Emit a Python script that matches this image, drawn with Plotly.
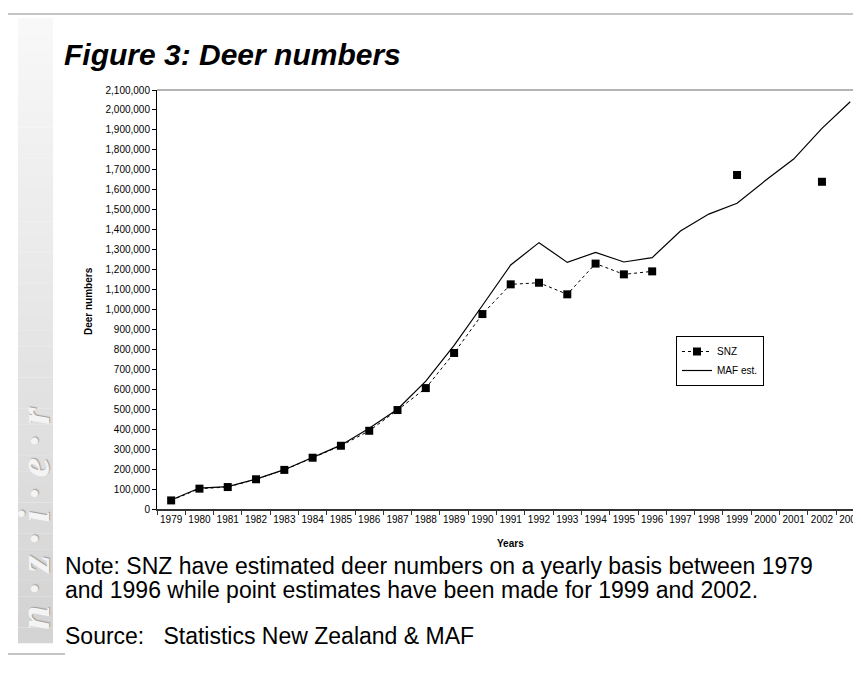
import plotly.graph_objects as go

years = [str(y) for y in range(1979, 2004)]
snz = [43000, 102000, 110000, 149000, 196000, 257000, 317000, 392000, 496000, 606000,
       782000, 977000, 1126000, 1134000, 1076000, 1230000, 1176000, 1191000,
       None, None, 1674000, None, None, 1640000, None]
maf = [45000, 105000, 112000, 150000, 197000, 258000, 320000, 405000, 500000, 641000,
       820000, 1020000, 1223000, 1335000, 1236000, 1286000, 1238000, 1260000,
       1393000, 1478000, 1532000, 1646000, 1754000, 1908000, 2041000]
y_ticks = list(range(0, 2100001, 100000))

FONT = "Liberation Sans, Arial, sans-serif"
OFF = 8  # page body margin
L, R, T, B = 157, 861, 90, 509   # plot area in screen pixels
W, H = R - L, B - T
FW, FH = 861 - OFF, 690 - OFF


def px(X):
    return (X - L) / W


def py(Y):
    return (B - Y) / H


fig = go.Figure()
fig.add_trace(go.Scatter(
    x=years, y=snz, name="SNZ", mode="lines+markers", connectgaps=False,
    line=dict(color="black", width=1, dash="3px,3px"),
    marker=dict(symbol="square", size=8, color="black"),
))
fig.add_trace(go.Scatter(
    x=years, y=maf, name="MAF est.", mode="lines",
    line=dict(color="black", width=1.2),
))

shapes = []
shapes.append(dict(type="line", xref="paper", yref="paper", x0=px(7), x1=px(861),
                   y0=py(14), y1=py(14), line=dict(color="#c4c4c4", width=2)))
n = 40
y_top, y_bot = 18, 643
for i in range(n):
    ya = y_top + (y_bot - y_top) * i / n
    yb = y_top + (y_bot - y_top) * (i + 1) / n
    t = i / (n - 1)
    c = int(248 - t * (248 - 212))
    shapes.append(dict(type="rect", xref="paper", yref="paper", x0=px(18), x1=px(53),
                       y0=py(yb) - 0.0005, y1=py(ya), line=dict(width=0),
                       fillcolor=f"rgb({c},{c},{c})", layer="below"))
shapes.append(dict(type="line", xref="paper", yref="paper", x0=px(0), x1=px(65),
                   y0=py(654), y1=py(654), line=dict(color="#c4c4c4", width=2)))
shapes.append(dict(type="line", xref="paper", yref="paper", x0=0, x1=1,
                   y0=1, y1=1, line=dict(color="#b4b4b4", width=2)))

annotations = [
    dict(text="<b><i>Figure 3: Deer numbers</i></b>", xref="paper", yref="paper",
         x=px(62), y=py(55), xanchor="left", yanchor="middle", showarrow=False,
         font=dict(family=FONT, size=30, color="black")),
    dict(text="<b>Deer numbers</b>", xref="paper", yref="paper", x=px(88), y=py(301),
         xanchor="center", yanchor="middle", textangle=-90, showarrow=False,
         font=dict(family=FONT, size=10, color="black")),
    dict(text="<b>Years</b>", xref="paper", yref="paper", x=px(510), y=py(543),
         xanchor="center", yanchor="middle", showarrow=False,
         font=dict(family=FONT, size=10, color="black")),
    dict(text="Note: SNZ have estimated deer numbers on a yearly basis between 1979",
         xref="paper", yref="paper", x=px(63), y=py(566), xanchor="left", yanchor="middle",
         showarrow=False, font=dict(family=FONT, size=23, color="black")),
    dict(text="and 1996 while point estimates have been made for 1999 and 2002.",
         xref="paper", yref="paper", x=px(63), y=py(590), xanchor="left", yanchor="middle",
         showarrow=False, font=dict(family=FONT, size=23, color="black")),
    dict(text="Source:   Statistics New Zealand &amp; MAF",
         xref="paper", yref="paper", x=px(63), y=py(636), xanchor="left", yanchor="middle",
         showarrow=False, font=dict(family=FONT, size=23, color="black")),
    dict(text="n · z · i · e · r", xref="paper", yref="paper", x=px(35), y=py(518),
         xanchor="center", yanchor="middle", textangle=-90, showarrow=False,
         font=dict(family="Liberation Serif, serif", size=44, color="#f4f4f4",
                   style="italic", weight="bold", shadow="1px 1px 1px #a0a0a0")),
]

fig.update_layout(
    width=FW, height=FH,
    margin=dict(l=L - OFF, r=861 - R, t=T - OFF, b=690 - B, pad=0),
    paper_bgcolor="white", plot_bgcolor="white",
    font=dict(family=FONT, size=10, color="black"),
    showlegend=True,
    legend=dict(x=px(676), y=py(336), xanchor="left", yanchor="top",
                bordercolor="black", borderwidth=1, bgcolor="white",
                font=dict(family=FONT, size=10, color="black"),
                tracegroupgap=0, itemwidth=30),
    shapes=shapes,
    annotations=annotations,
    xaxis=dict(type="category", range=[-0.5, 24.38], tickson="boundaries",
               ticks="outside", ticklen=4, tickcolor="#333", showline=True,
               linecolor="#333", linewidth=2, showgrid=False, zeroline=False,
               tickfont=dict(family=FONT, size=10), tickangle=0),
    yaxis=dict(range=[0, 2100000], tickvals=y_ticks, tickformat=",", ticks="outside",
               ticklen=4, tickcolor="black", showline=True, linecolor="black",
               linewidth=1, showgrid=False, zeroline=False,
               tickfont=dict(family=FONT, size=10)),
)

fig.write_html("out.html")
